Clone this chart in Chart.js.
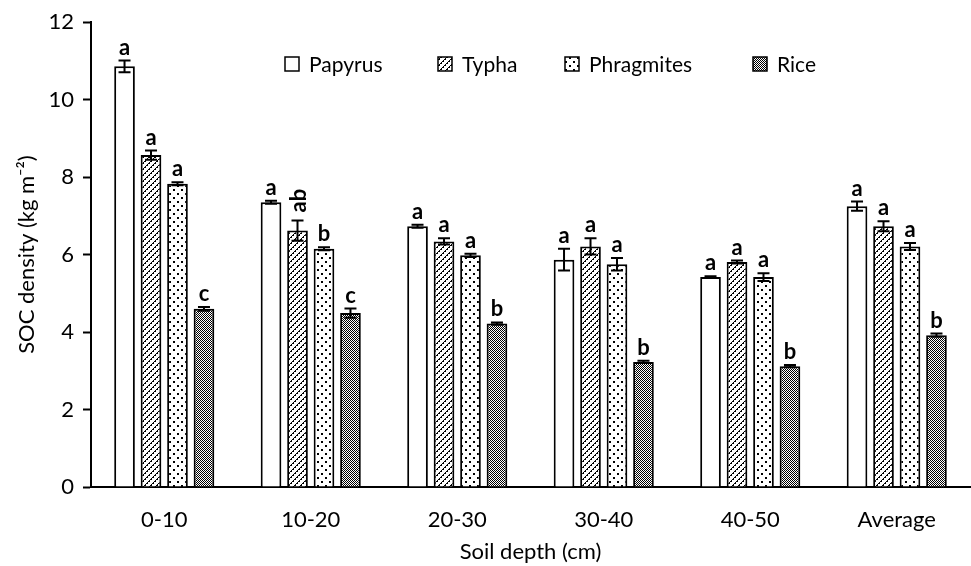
<!DOCTYPE html>
<html>
<head>
<meta charset="utf-8">
<script src="https://cdn.jsdelivr.net/npm/chart.js@4"></script>
<style>
html, body { margin: 0; padding: 0; background: #fff; }
</style>
</head>
<body>
<canvas id="myChart" width="971" height="566"></canvas>
<script>
// Dados
const categorias = ['0-10', '10-20', '20-30', '30-40', '40-50', 'Average'];
const nomes = ['Papyrus', 'Typha', 'Phragmites', 'Rice'];

const papyrus = [10.86, 7.35, 6.73, 5.87, 5.42, 7.25];
const typha = [8.57, 6.62, 6.34, 6.21, 5.81, 6.73];
const phragmites = [7.83, 6.15, 5.98, 5.75, 5.42, 6.21];
const rice = [4.60, 4.49, 4.22, 3.23, 3.12, 3.92];

// Barras de erro (+/-)
const erroPapyrus = [0.15, 0.04, 0.04, 0.28, 0.02, 0.12];
const erroTypha = [0.12, 0.26, 0.08, 0.21, 0.04, 0.13];
const erroPhragmites = [0.04, 0.04, 0.04, 0.16, 0.10, 0.09];
const erroRice = [0.05, 0.12, 0.03, 0.03, 0.03, 0.04];

// Letras de significância
const letrasPapyrus = ['a', 'a', 'a', 'a', 'a', 'a'];
const letrasTypha = ['a', 'ab', 'a', 'a', 'a', 'a'];
const letrasPhragmites = ['a', 'b', 'a', 'a', 'a', 'a'];
const letrasRice = ['c', 'c', 'b', 'b', 'b', 'b'];

const fonte = 'Lato, "Open Sans", sans-serif';

// Criando os padrões de preenchimento
function padrao(tipo) {
    let c = document.createElement('canvas');
    let g = c.getContext('2d');
    if (tipo === 'branco') {
        c.width = 2; c.height = 2;
        g.fillStyle = '#fff';
        g.fillRect(0, 0, 2, 2);
    } else if (tipo === 'listras') {
        c.width = 6; c.height = 6;
        g.fillStyle = '#fff';
        g.fillRect(0, 0, 6, 6);
        g.fillStyle = '#000';
        for (let i = 0; i < 6; i++) {
            g.fillRect(i, 5 - i, 1, 1);
            if (i % 2 === 0) g.fillRect((i + 1) % 6, 5 - i, 1, 1);
        }
    } else if (tipo === 'pontos') {
        c.width = 8; c.height = 8;
        g.fillStyle = '#fff';
        g.fillRect(0, 0, 8, 8);
        g.fillStyle = '#000';
        g.fillRect(1, 1, 2, 2);
        g.fillRect(5, 5, 2, 2);
    } else {
        c.width = 2; c.height = 2;
        g.fillStyle = '#fff';
        g.fillRect(0, 0, 2, 2);
        g.fillStyle = '#000';
        g.fillRect(0, 0, 1, 1);
        g.fillRect(1, 1, 1, 1);
    }
    return g.createPattern(c, 'repeat');
}

const preenchimentos = [padrao('branco'), padrao('listras'), padrao('pontos'), padrao('xadrez')];

function serie(i, valores, erros, letras) {
    return {
        label: nomes[i],
        data: valores,
        erros: erros,
        letras: letras,
        backgroundColor: preenchimentos[i],
        borderColor: '#000',
        borderWidth: 2,
        borderSkipped: 'start',
        categoryPercentage: 0.723,
        barPercentage: 0.78
    };
}

// Plugin para desenhar as barras de erro e as letras
const barrasErro = {
    id: 'barrasErro',
    afterDatasetsDraw(chart) {
        const ctx = chart.ctx;
        const y = chart.scales.y;
        ctx.save();
        chart.data.datasets.forEach((ds, i) => {
            const meta = chart.getDatasetMeta(i);
            meta.data.forEach((bar, j) => {
                const v = ds.data[j];
                const e = ds.erros[j];
                const topo = y.getPixelForValue(v + e);
                const base = y.getPixelForValue(v - e);
                ctx.strokeStyle = '#000';
                ctx.lineWidth = 2;
                ctx.beginPath();
                ctx.moveTo(bar.x, topo);
                ctx.lineTo(bar.x, base);
                ctx.moveTo(bar.x - 6, topo);
                ctx.lineTo(bar.x + 6, topo);
                ctx.moveTo(bar.x - 6, base);
                ctx.lineTo(bar.x + 6, base);
                ctx.stroke();

                const letra = ds.letras[j];
                ctx.fillStyle = '#000';
                ctx.font = 'bold 22px ' + fonte;
                if (letra.length > 1) {
                    ctx.save();
                    ctx.translate(bar.x, topo - 8);
                    ctx.rotate(-Math.PI / 2);
                    ctx.textAlign = 'left';
                    ctx.textBaseline = 'middle';
                    ctx.fillText(letra, 0, 1);
                    ctx.restore();
                } else {
                    ctx.textAlign = 'center';
                    ctx.textBaseline = 'bottom';
                    ctx.fillText(letra, bar.x, topo - 2);
                }
            });
        });
        ctx.restore();
    }
};

// Legenda dentro da área do gráfico
const legendaX = [285, 438, 565, 753];
const legenda = {
    id: 'legenda',
    afterDraw(chart) {
        const ctx = chart.ctx;
        ctx.save();
        chart.data.datasets.forEach((ds, i) => {
            const x = legendaX[i];
            const yc = 64;
            ctx.fillStyle = ds.backgroundColor;
            ctx.fillRect(x, yc - 7, 14, 14);
            ctx.strokeStyle = '#000';
            ctx.lineWidth = 1.5;
            ctx.strokeRect(x, yc - 7, 14, 14);
            ctx.fillStyle = '#000';
            ctx.font = '21px ' + fonte;
            ctx.textAlign = 'left';
            ctx.textBaseline = 'middle';
            ctx.fillText(ds.label, x + 24, yc + 1);
        });
        ctx.restore();
    }
};

const ctx = document.getElementById('myChart');

const data = {
    labels: categorias,
    datasets: [
        serie(0, papyrus, erroPapyrus, letrasPapyrus),
        serie(1, typha, erroTypha, letrasTypha),
        serie(2, phragmites, erroPhragmites, letrasPhragmites),
        serie(3, rice, erroRice, letrasRice)
    ]
};

const config = {
    type: 'bar',
    data: data,
    options: {
        responsive: false,
        animation: false,
        layout: { padding: { top: 21, right: 1, left: 0, bottom: 0 } },
        plugins: {
            legend: { display: false },
            tooltip: { enabled: false }
        },
        scales: {
            x: {
                grid: { display: false },
                border: { display: true, color: '#000', width: 2 },
                ticks: { color: '#000', font: { family: fonte, size: 22 }, padding: 12 },
                title: {
                    display: true,
                    text: 'Soil depth (cm)',
                    color: '#000',
                    font: { family: fonte, size: 22 },
                    padding: { top: 0, bottom: 1 }
                },
                afterFit(scale) { scale.height = 79; }
            },
            y: {
                min: 0,
                max: 12,
                ticks: { stepSize: 2, color: '#000', font: { family: fonte, size: 22 }, padding: 9 },
                grid: { drawOnChartArea: false, drawTicks: true, tickLength: 8, tickWidth: 2, tickColor: '#000' },
                border: { display: true, color: '#000', width: 2 },
                title: {
                    display: true,
                    text: 'SOC density (kg m\u207B\u00B2)',
                    color: '#000',
                    font: { family: fonte, size: 22 },
                    padding: { top: 14, bottom: 0 }
                },
                afterFit(scale) { scale.width = 91; }
            }
        }
    },
    plugins: [barrasErro, legenda]
};

const myChart = new Chart(ctx, config);
</script>
</body>
</html>
